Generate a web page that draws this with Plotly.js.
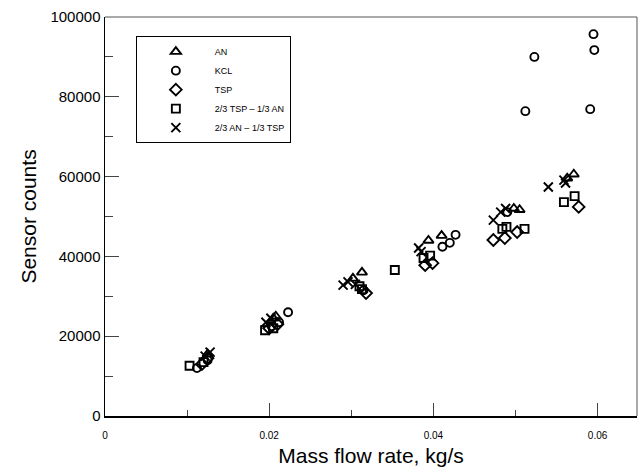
<!DOCTYPE html>
<html>
<head>
<meta charset="utf-8">
<script src="https://cdn.plot.ly/plotly-3.0.1.min.js"></script>
<style>html,body{margin:0;padding:0;background:#fff;}#chart{width:639px;height:467px;}</style>
</head>
<body>
<div id="chart"></div>
<script>
// Series names
const seriesNames = ["AN", "KCL", "TSP", "2/3 TSP \u2013 1/3 AN", "2/3 AN \u2013 1/3 TSP"];

// AN (triangles)
const anFlow   = [0.0125, 0.0205, 0.0208, 0.0302, 0.0313, 0.0394, 0.0410, 0.0498, 0.0505, 0.0563, 0.0571];
const anCounts = [15500, 24500, 25000, 34500, 36000, 44000, 45200, 52000, 51700, 59600, 60600];

// KCL (circles)
const kclFlow   = [0.0112, 0.0125, 0.0203, 0.0212, 0.0223, 0.0315, 0.0411, 0.0420, 0.0427, 0.0490, 0.0512, 0.0523, 0.0591, 0.0595, 0.0596];
const kclCounts = [12000, 14000, 22500, 23500, 26000, 31500, 42400, 43400, 45400, 51100, 76400, 90000, 76900, 95700, 91700];

// TSP (diamonds)
const tspFlow   = [0.0118, 0.0125, 0.0200, 0.0210, 0.0318, 0.0390, 0.0399, 0.0473, 0.0487, 0.0502, 0.0577];
const tspCounts = [13000, 14500, 22000, 23000, 30800, 37800, 38300, 44100, 44600, 46100, 52400];

// 2/3 TSP - 1/3 AN (squares)
const mixAFlow   = [0.0103, 0.0120, 0.0195, 0.0205, 0.0310, 0.0313, 0.0353, 0.0388, 0.0396, 0.0484, 0.0489, 0.0511, 0.0559, 0.0572];
const mixACounts = [12600, 13500, 21500, 22000, 32500, 31800, 36600, 39600, 40200, 46900, 47400, 46900, 53600, 55100];

// 2/3 AN - 1/3 TSP (crosses)
const mixBFlow   = [0.0122, 0.0128, 0.0196, 0.0202, 0.0290, 0.0296, 0.0305, 0.0382, 0.0385, 0.0473, 0.0482, 0.0488, 0.0540, 0.0559, 0.0561];
const mixBCounts = [15000, 16000, 23500, 24500, 32800, 33600, 33000, 42100, 41200, 49100, 51100, 52000, 57400, 59100, 58400];

// Axis ticks
const xTickVals = [0, 0.02, 0.04, 0.06];
const xTickText = ["0", "0.02", "0.04", "0.06"];
const yTickVals = [0, 20000, 40000, 60000, 80000, 100000];
const yTickText = ["0", "20000", "40000", "60000", "80000", "100000"];

const FONT = "Liberation Sans, Arial, Helvetica, sans-serif";

function mk(name, x, y, symbol, size) {
  return {
    type: "scatter", mode: "markers", name: name, x: x, y: y,
    marker: {symbol: symbol, size: size, color: "#000", line: {color: "#000", width: 1.9}},
    cliponaxis: false
  };
}

const data = [
  mk(seriesNames[0], anFlow, anCounts, "triangle-up-open", 9),
  mk(seriesNames[1], kclFlow, kclCounts, "circle-open", 8),
  mk(seriesNames[2], tspFlow, tspCounts, "diamond-open", 9),
  mk(seriesNames[3], mixAFlow, mixACounts, "square-open", 8),
  mk(seriesNames[4], mixBFlow, mixBCounts, "x-thin-open", 9)
];

const layout = {
  width: 639, height: 467,
  margin: {l: 105, r: 2, t: 17, b: 51, pad: 0},
  paper_bgcolor: "#fff", plot_bgcolor: "#fff",
  font: {family: FONT, color: "#000"},
  showlegend: true,
  legend: {
    x: 0.058, y: 0.952, xanchor: "left", yanchor: "top",
    bgcolor: "#fff", bordercolor: "#000", borderwidth: 1,
    font: {family: FONT, size: 9, color: "#000"},
    itemwidth: 68, entrywidth: 150, tracegroupgap: 0
  },
  xaxis: {
    range: [0, 0.0648],
    tickmode: "array", tickvals: xTickVals, ticktext: xTickText,
    ticks: "inside", ticklen: 13, tickwidth: 1.2, tickcolor: "#444",
    minor: {dtick: 0.01, tick0: 0, ticks: "inside", ticklen: 6, tickwidth: 1, tickcolor: "#444"},
    showline: true, linecolor: "#000", linewidth: 1.5,
    showgrid: false, zeroline: false,
    ticklabelstandoff: 9,
    tickfont: {family: FONT, size: 10, color: "#000"},
    title: {text: "Mass flow rate, kg/s", font: {family: FONT, size: 21, color: "#000"}, standoff: 10}
  },
  yaxis: {
    range: [0, 100000],
    tickmode: "array", tickvals: yTickVals, ticktext: yTickText,
    ticks: "inside", ticklen: 14, tickwidth: 1.2, tickcolor: "#444",
    minor: {dtick: 10000, tick0: 0, ticks: "inside", ticklen: 8, tickwidth: 1, tickcolor: "#444"},
    showline: true, linecolor: "#000", linewidth: 1.5,
    showgrid: false, zeroline: false,
    tickfont: {family: FONT, size: 15, color: "#000"},
    title: {text: "Sensor counts", font: {family: FONT, size: 21, color: "#000"}, standoff: 8}
  },
  shapes: [
    {type: "line", xref: "paper", yref: "paper", x0: 0, x1: 1, y0: 1, y1: 1, line: {color: "#555", width: 1}},
    {type: "line", xref: "paper", yref: "paper", x0: 1, x1: 1, y0: 0, y1: 1, line: {color: "#555", width: 1}}
  ]
};

Plotly.newPlot("chart", data, layout, {displayModeBar: false, staticPlot: true});
</script>
</body>
</html>
